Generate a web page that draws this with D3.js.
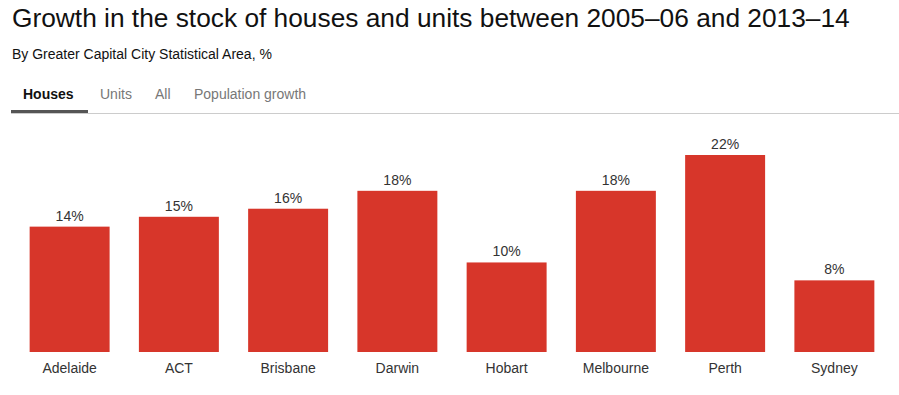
<!DOCTYPE html>
<html>
<head>
<meta charset="utf-8">
<script src="https://cdn.jsdelivr.net/npm/d3@7"></script>
<style>
  body { margin: 0; background: #fff; font-family: Arial, "Liberation Sans", sans-serif; }
</style>
</head>
<body>
<div id="chart"></div>
<script>
var cities = ["Adelaide", "ACT", "Brisbane", "Darwin", "Hobart", "Melbourne", "Perth", "Sydney"];
var houseGrowth = [14.0, 15.1, 16.0, 18.0, 10.0, 18.0, 22.0, 8.0];
var tabs = ["Houses", "Units", "All", "Population growth"];
var activeTab = 0;

var width = 899, height = 395;
var margin = { top: 155, bottom: 43, left: 15, right: 10 };

var svg = d3.select('#chart').append('svg')
    .attr('width', width)
    .attr('height', height);

svg.append('text')
    .attr('x', 12)
    .attr('y', 27)
    .style('font-size', '26.3px')
    .style('fill', '#111')
    .text('Growth in the stock of houses and units between 2005\u201306 and 2013\u201314');

svg.append('text')
    .attr('x', 12)
    .attr('y', 59)
    .style('font-size', '14px')
    .style('fill', '#111')
    .text('By Greater Capital City Statistical Area, %');

// tabs
var tabX = [23, 100, 155, 194];
svg.append('line')
    .attr('x1', 11).attr('x2', width)
    .attr('y1', 113.5).attr('y2', 113.5)
    .attr('stroke', '#ccc')
    .attr('stroke-width', 1);

svg.selectAll('.tab').data(tabs)
    .enter().append('text')
    .attr('class', 'tab')
    .attr('x', function(d, i) { return tabX[i]; })
    .attr('y', 99)
    .style('font-size', '14px')
    .style('font-weight', function(d, i) { return i === activeTab ? 'bold' : 'normal'; })
    .style('fill', function(d, i) { return i === activeTab ? '#111' : '#777'; })
    .text(function(d) { return d; });

svg.append('rect')
    .attr('x', 11)
    .attr('y', 110)
    .attr('width', 77)
    .attr('height', 3)
    .attr('fill', '#555');

var xScale = d3.scaleBand()
    .domain(cities)
    .range([margin.left, width - margin.right])
    .paddingInner(0.268)
    .paddingOuter(0.134);

var yScale = d3.scaleLinear()
    .domain([0, 22])
    .range([height - margin.bottom, margin.top]);

var chart = svg.append('g').attr('id', 'chart-area');

chart.selectAll('rect.bar').data(houseGrowth)
    .enter().append('rect')
    .attr('class', 'bar')
    .attr('x', function(d, i) { return xScale(cities[i]); })
    .attr('y', function(d) { return yScale(d); })
    .attr('width', xScale.bandwidth())
    .attr('height', function(d) { return yScale(0) - yScale(d); })
    .attr('fill', '#d7362a');

chart.selectAll('text.value').data(houseGrowth)
    .enter().append('text')
    .attr('class', 'value')
    .attr('x', function(d, i) { return xScale(cities[i]) + xScale.bandwidth() / 2; })
    .attr('y', function(d) { return yScale(d) - 6; })
    .attr('text-anchor', 'middle')
    .style('font-size', '14px')
    .style('fill', '#333')
    .text(function(d) { return Math.round(d) + '%'; });

var xAxis = d3.axisBottom(xScale).tickSize(0).tickPadding(11);
svg.append('g')
    .attr('transform', 'translate(0,' + (height - margin.bottom) + ')')
    .call(xAxis)
    .call(function(g) { g.select('.domain').remove(); })
    .selectAll('text')
    .style('font-family', 'Arial, "Liberation Sans", sans-serif')
    .style('font-size', '14px')
    .style('fill', '#333');
</script>
</body>
</html>
